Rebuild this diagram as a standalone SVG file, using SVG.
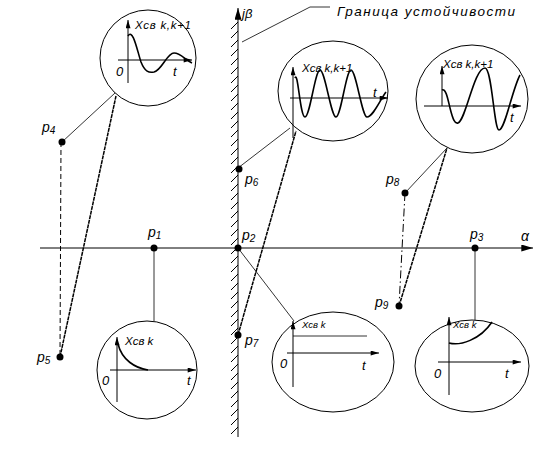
<svg xmlns="http://www.w3.org/2000/svg" width="559" height="463" viewBox="0 0 559 463">
<defs>
<marker id="ah" viewBox="0 0 10 6" refX="10" refY="3" markerWidth="9" markerHeight="5" markerUnits="userSpaceOnUse" orient="auto"><path d="M0,0 L10,3 L0,6 Z" fill="#000"/></marker>
<marker id="ahb" viewBox="0 0 10 6" refX="10" refY="3" markerWidth="12" markerHeight="7" markerUnits="userSpaceOnUse" orient="auto"><path d="M0,0 L10,3 L0,6 Z" fill="#000"/></marker>
</defs>
<style>
text{font-family:"Liberation Sans",Arial,sans-serif;font-style:italic;fill:#000}
.ax{stroke:#000;stroke-width:1;fill:none}
.bub{stroke:#000;stroke-width:1;fill:#fff}
.cur{stroke:#000;stroke-width:1.6;fill:none}
.thin{stroke:#000;stroke-width:0.8;fill:none}
.thick{stroke:#000;stroke-width:1.5;fill:none;stroke-dasharray:4 0.7}
.pl{font-size:14px}
.sub{font-size:10px}
.lab{font-size:11.5px}
.lab2{font-size:9.5px}
.ol{font-size:13px}
</style>
<rect width="559" height="463" fill="#fff"/>

<g id="axes">
<path class="ax" d="M40,248 L533,248" marker-end="url(#ahb)"/>
<path class="ax" d="M238,437 L238,8" stroke-width="1.3" marker-end="url(#ahb)"/>
<path class="ax" stroke-width="0.9" d="M231,29L238,22M231,38L238,31M231,47L238,40M231,56L238,49M231,65L238,58M231,74L238,67M231,83L238,76M231,92L238,85M231,101L238,94M231,110L238,103M231,119L238,112M231,128L238,121M231,137L238,130M231,146L238,139M231,155L238,148M231,164L238,157M231,173L238,166M231,182L238,175M231,191L238,184M231,200L238,193M231,209L238,202M231,218L238,211M231,227L238,220M231,236L238,229M231,245L238,238M231,254L238,247M231,263L238,256M231,272L238,265M231,281L238,274M231,290L238,283M231,299L238,292M231,308L238,301M231,317L238,310M231,326L238,319M231,335L238,328M231,344L238,337M231,353L238,346M231,362L238,355M231,371L238,364M231,380L238,373M231,389L238,382M231,398L238,391M231,407L238,400M231,416L238,409M231,425L238,418M231,434L238,427"/>
<text x="521" y="241" class="pl">α</text>
<text x="242" y="18" style="font-size:13px">jβ</text>
<path class="thin" stroke-width="0.7" d="M242,42 L310,7 L330,7"/>
<text x="337" y="16" style="font-size:13.5px" textLength="178" lengthAdjust="spacing">Граница устойчивости</text>
</g>

<g id="connectors">
<path class="thin" d="M62,142 L115,93"/>
<path d="M61,142 L60,357" stroke="#000" stroke-width="1" stroke-dasharray="5 3" fill="none"/>
<path class="thick" d="M60,357 L116,96"/>
<path class="thin" d="M154,248 L154,321"/>
<path class="thin" d="M238,168 L290,128"/>
<path class="thick" d="M238,335 L296,131"/>
<path class="thin" d="M238,248 L294,321"/>
<path class="thin" d="M475,248 L475,320"/>
<path class="thin" d="M405,193 L447,148"/>
<path class="thick" d="M399,306 L447,148"/>
<path d="M405,193 L399,306" stroke="#000" stroke-width="1" stroke-dasharray="8 3 1.5 3" fill="none"/>
</g>

<g id="p1"><circle cx="154" cy="248" r="3.5"/><text x="148" y="237" class="pl">p<tspan class="sub" dy="2">1</tspan></text></g>
<g id="p2"><circle cx="238" cy="248" r="3.5"/><text x="242" y="240" class="pl">p<tspan class="sub" dy="2">2</tspan></text></g>
<g id="p3"><circle cx="475" cy="248" r="3.5"/><text x="470" y="239" class="pl">p<tspan class="sub" dy="2">3</tspan></text></g>
<g id="p4"><circle cx="62" cy="142" r="3.5"/><text x="42" y="132" class="pl">p<tspan class="sub" dy="2">4</tspan></text></g>
<g id="p5"><circle cx="60" cy="357" r="3.5"/><text x="37" y="362" class="pl">p<tspan class="sub" dy="2">5</tspan></text></g>
<g id="p6"><circle cx="239" cy="169" r="3.5"/><text x="245" y="184" class="pl">p<tspan class="sub" dy="2">6</tspan></text></g>
<g id="p7"><circle cx="238" cy="335" r="3.5"/><text x="245" y="345" class="pl">p<tspan class="sub" dy="2">7</tspan></text></g>
<g id="p8"><circle cx="405" cy="193" r="3.5"/><text x="386" y="184" class="pl">p<tspan class="sub" dy="2">8</tspan></text></g>
<g id="p9"><circle cx="399" cy="306" r="3.5"/><text x="375" y="307" class="pl">p<tspan class="sub" dy="2">9</tspan></text></g>

<g id="bubble1">
<ellipse class="bub" cx="148" cy="58" rx="48" ry="48"/>
<path class="ax" d="M128,83 L128,20" marker-end="url(#ah)"/>
<path class="ax" d="M118,60 L192,60" marker-end="url(#ah)"/>
<path class="cur" d="M128,36 C133,28 137,50 141,62 C145,72 149,73 154,72 C162,70 167,53 174,53 C181,53 185,60 192,63"/>
<text x="135" y="29" class="lab" textLength="56" lengthAdjust="spacing">Xсв k,k+1</text>
<text x="116" y="76" class="ol">0</text>
<text x="173" y="76" class="ol">t</text>
</g>

<g id="bubble2">
<ellipse class="bub" cx="333" cy="91" rx="55" ry="50"/>
<path class="ax" d="M293,138 L293,67" marker-end="url(#ah)"/>
<path class="ax" d="M290,98 L388,98" marker-end="url(#ah)"/>
<path class="cur" d="M295,78 C298,70 300,117 305,117 C310,117 315,70 320,70 C325,70 331,117 336,117 C341,117 346,70 351,70 C356,70 362,117 367,117 C373,117 380,100 386,92"/>
<text x="302" y="72" class="lab">Xсв k,k+1</text>
<text x="373" y="97" class="ol">t</text>
</g>

<g id="bubble3">
<ellipse class="bub" cx="472" cy="99" rx="56" ry="54"/>
<path class="ax" d="M442,106 L442,66" marker-end="url(#ah)"/>
<path class="ax" d="M424,106 L521,106" marker-end="url(#ah)"/>
<path class="cur" d="M442,90 C446,88 448,100 450,108 C453,120 455,124 458,123 C466,120 474,68 485,68 C492,68 494,130 499,130 C505,130 512,90 520,75"/>
<text x="443" y="68" class="lab">Xсв k,k+1</text>
<text x="510" y="122" class="ol">t</text>
</g>

<g id="bubble4">
<ellipse class="bub" cx="147" cy="370" rx="50" ry="49"/>
<path class="ax" d="M117,402 L117,337" marker-end="url(#ah)"/>
<path class="ax" d="M110,370 L196,370" marker-end="url(#ah)"/>
<path class="cur" d="M118,344 C122,360 135,368 148,370"/>
<text x="125" y="345" class="lab">Xсв k</text>
<text x="102" y="385" class="ol">0</text>
<text x="187" y="385" class="ol">t</text>
</g>

<g id="bubble5">
<ellipse class="bub" cx="333" cy="362" rx="61" ry="50"/>
<path class="ax" d="M293,387 L293,321" marker-end="url(#ah)"/>
<path class="ax" d="M287,353 L379,353" marker-end="url(#ah)"/>
<path class="thin" stroke-width="1" d="M293,336 L367,336"/>
<text x="302" y="328" class="lab2">Xсв k</text>
<text x="280" y="368" class="ol">0</text>
<text x="362" y="370" class="ol">t</text>
</g>

<g id="bubble6">
<ellipse class="bub" cx="472" cy="366" rx="57" ry="46"/>
<path class="ax" d="M449,395 L449,317" marker-end="url(#ah)"/>
<path class="ax" d="M438,362 L521,362" marker-end="url(#ah)"/>
<path class="cur" d="M449,343 C460,346 480,340 492,322"/>
<text x="453" y="328" class="lab2">Xсв k</text>
<text x="434" y="378" class="ol">0</text>
<text x="505" y="378" class="ol">t</text>
</g>
</svg>
